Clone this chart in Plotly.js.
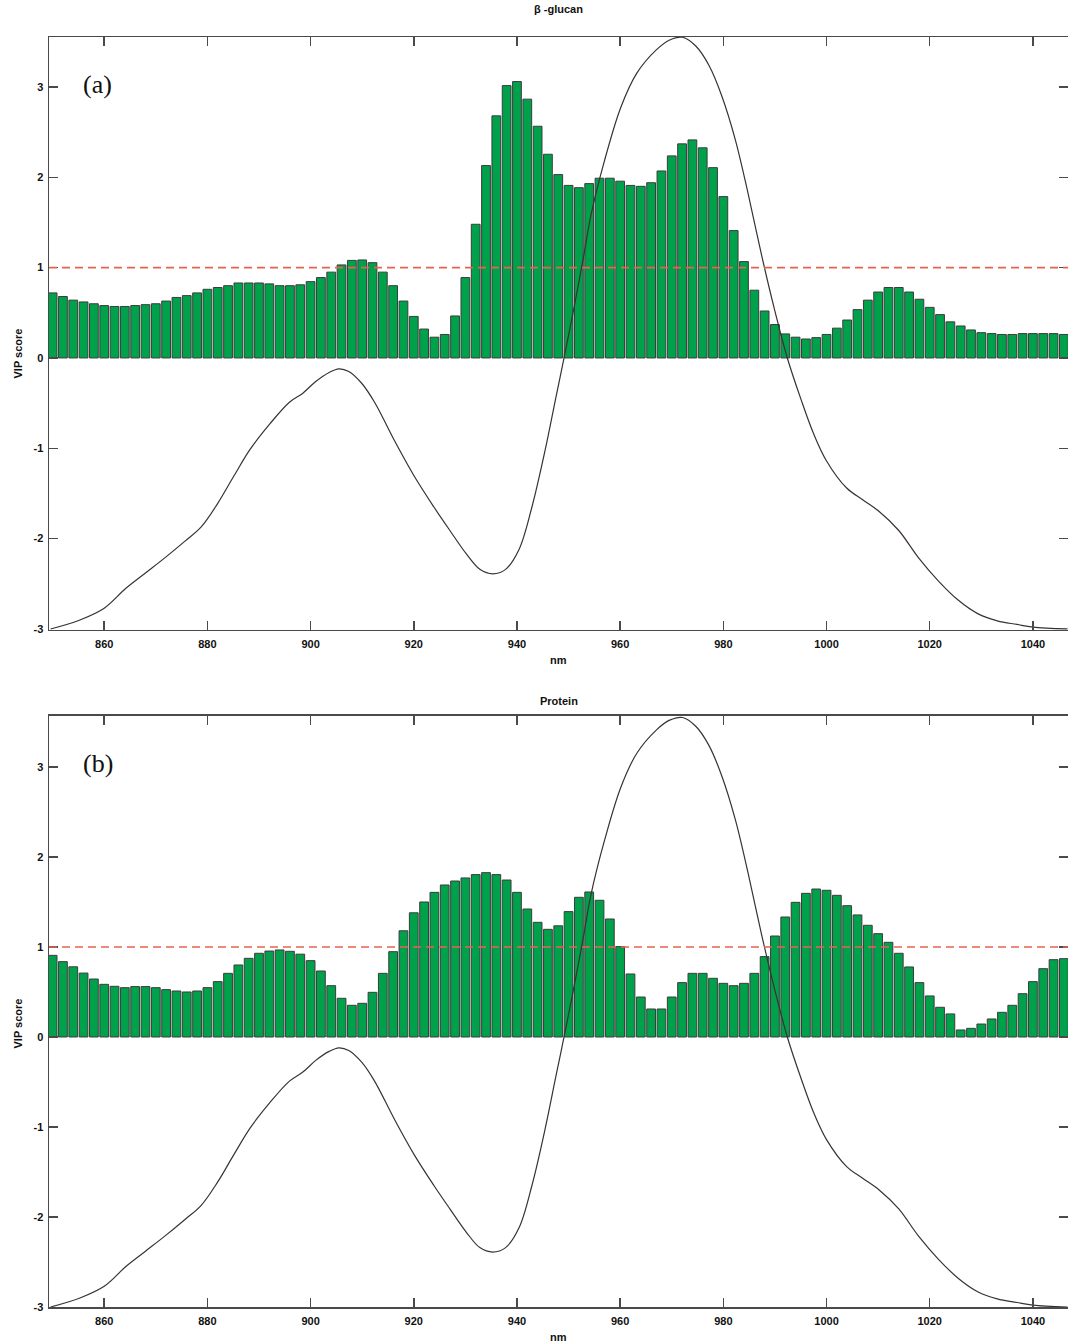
<!DOCTYPE html>
<html>
<head>
<meta charset="utf-8">
<script src="https://cdn.plot.ly/plotly-3.0.1.min.js"></script>
<style>html,body{margin:0;padding:0;background:#fff;}#chart{width:1068px;height:1343px;}</style>
</head>
<body>
<div id="chart"></div>
<script>
// Wavelengths (nm) of the VIP bars
const wavelengths = [850,852,854,856,858,860,862,864,866,868,870,872,874,876,878,880,882,884,886,888,
890,892,894,896,898,900,902,904,906,908,910,912,914,916,918,920,922,924,926,928,
930,932,934,936,938,940,942,944,946,948,950,952,954,956,958,960,962,964,966,968,
970,972,974,976,978,980,982,984,986,988,990,992,994,996,998,1000,1002,1004,1006,1008,
1010,1012,1014,1016,1018,1020,1022,1024,1026,1028,1030,1032,1034,1036,1038,1040,1042,1044,1046];

// (a) beta-glucan VIP scores
const vipGlucan = [0.72,0.68,0.64,0.62,0.60,0.58,0.57,0.57,0.58,0.59,
0.60,0.63,0.67,0.69,0.72,0.76,0.78,0.80,0.83,0.83,
0.83,0.82,0.80,0.80,0.81,0.845,0.89,0.95,1.03,1.08,
1.085,1.055,0.95,0.80,0.63,0.46,0.32,0.23,0.26,0.465,
0.89,1.48,2.13,2.68,3.015,3.06,2.865,2.565,2.255,2.03,
1.91,1.885,1.93,1.99,1.99,1.957,1.91,1.90,1.94,2.07,
2.237,2.37,2.414,2.326,2.107,1.786,1.41,1.067,0.75,0.52,
0.37,0.266,0.23,0.21,0.225,0.26,0.33,0.42,0.535,0.64,
0.73,0.78,0.78,0.73,0.65,0.56,0.48,0.40,0.354,0.31,
0.28,0.27,0.26,0.26,0.27,0.27,0.27,0.27,0.26];

// (b) protein VIP scores
const vipProtein = [0.907,0.837,0.78,0.71,0.644,0.585,0.563,0.548,0.56,0.56,
0.548,0.526,0.511,0.50,0.511,0.548,0.615,0.707,0.80,0.874,
0.93,0.955,0.967,0.952,0.92,0.848,0.733,0.57,0.43,0.352,
0.374,0.496,0.707,0.948,1.18,1.38,1.50,1.607,1.689,1.733,
1.767,1.804,1.826,1.804,1.744,1.607,1.422,1.274,1.196,1.235,
1.393,1.552,1.611,1.519,1.311,1.004,0.70,0.444,0.311,0.311,
0.444,0.604,0.707,0.707,0.652,0.596,0.57,0.596,0.707,0.893,
1.122,1.333,1.496,1.596,1.644,1.63,1.574,1.459,1.356,1.241,
1.148,1.052,0.93,0.778,0.604,0.456,0.33,0.256,0.078,0.096,
0.144,0.20,0.274,0.352,0.481,0.615,0.759,0.859,0.87];

// Overlaid spectrum curve (same in both panels)
const curveNm = [849.6,855.3,860,864.2,868,871.8,875.6,878.8,882,885.1,888.3,892.1,895.9,898.5,901,903.6,905.5,907.4,909.9,912.4,
916.3,920.1,923.9,927,930.2,932.8,935.3,937.8,940.4,942.9,945.5,947.5,949.3,951.2,953,954.3,956.9,960.1,963.2,967,969.6,
972.1,974.7,977.2,979.7,982.3,984.8,987.4,989.9,992.4,995,997.5,1000,1003.9,1007,1010.2,1014,1017.8,1021.7,1025.5,1029.3,
1033.1,1036.9,1040,1046.7];
const curveVal = [-3.0,-2.90,-2.77,-2.55,-2.38,-2.21,-2.03,-1.87,-1.61,-1.31,-1.01,-0.73,-0.49,-0.39,-0.26,-0.16,-0.12,-0.15,-0.28,-0.49,
-0.92,-1.31,-1.65,-1.91,-2.17,-2.34,-2.39,-2.34,-2.12,-1.65,-1.01,-0.45,0.05,0.6,1.15,1.57,2.17,2.77,3.15,3.41,3.52,
3.55,3.45,3.24,2.90,2.42,1.82,1.14,0.54,0,-0.45,-0.84,-1.14,-1.44,-1.57,-1.70,-1.91,-2.21,-2.47,-2.68,-2.83,
-2.91,-2.95,-2.98,-3.0];

const xTicks = [860,880,900,920,940,960,980,1000,1020,1040];
const yTicks = [-3,-2,-1,0,1,2,3];
const threshold = 1;
const panelTitles = ['\u03b2 -glucan','Protein'];
const panelLabels = ['(a)','(b)'];

const barStyle = {color:'#00a14b', line:{color:'#3c3c3c', width:1}};
const curveStyle = {color:'#3a3232', width:1.2, shape:'spline', smoothing:1};

const data = [
  {type:'bar', x:wavelengths, y:vipGlucan, marker:barStyle, xaxis:'x', yaxis:'y', hoverinfo:'x+y'},
  {type:'scatter', mode:'lines', x:curveNm, y:curveVal, line:curveStyle, xaxis:'x', yaxis:'y'},
  {type:'bar', x:wavelengths, y:vipProtein, marker:barStyle, xaxis:'x2', yaxis:'y2', hoverinfo:'x+y'},
  {type:'scatter', mode:'lines', x:curveNm, y:curveVal, line:curveStyle, xaxis:'x2', yaxis:'y2'}
];

const tickFont = {family:'Liberation Sans, Arial, sans-serif', size:11, color:'#111', weight:'bold'};
const axisCommon = {
  showline:true, linecolor:'#4a4a4a', linewidth:1.5, mirror:'ticks',
  ticks:'inside', ticklen:9, tickwidth:1.5, tickcolor:'#4a4a4a',
  showgrid:false, zeroline:false, tickfont:tickFont, automargin:false
};
function xa(anchor){ return Object.assign({}, axisCommon, {anchor:anchor, range:[849.3,1046.8], tickvals:xTicks, ticktext:xTicks.map(String), ticklabelstandoff:3}); }
function ya(anchor, dom, rng){ return Object.assign({}, axisCommon, {anchor:anchor, domain:dom, range:rng, tickvals:yTicks, ticktext:yTicks.map(String), ticklabelstandoff:2}); }

const labFont = {family:'Liberation Sans, Arial, sans-serif', size:11, color:'#111', weight:'bold'};
const annotations = [];
const panels = [
  {x:'x', y:'y', title:panelTitles[0], lab:panelLabels[0], tshift:28, vshift:-20},
  {x:'x2', y:'y2', title:panelTitles[1], lab:panelLabels[1], tshift:15, vshift:-12}
];
panels.forEach(p => {
  annotations.push({xref:p.x+' domain', yref:p.y+' domain', x:0.5, y:1, yshift:p.tshift, text:p.title, showarrow:false, font:labFont, xanchor:'center', yanchor:'middle'});
  annotations.push({xref:p.x+' domain', yref:p.y+' domain', x:0.5, y:0, yshift:-30, text:'nm', showarrow:false, font:labFont, xanchor:'center', yanchor:'middle'});
  annotations.push({xref:'paper', yref:p.y+' domain', x:0, xshift:-31, y:0.5, yshift:p.vshift, text:'VIP score', textangle:-90, showarrow:false, font:labFont, xanchor:'center', yanchor:'middle'});
  annotations.push({xref:p.x+' domain', yref:p.y+' domain', x:0.031, y:0.92, text:p.lab, showarrow:false, font:{family:'Liberation Serif, Times New Roman, serif', size:26, color:'#111'}, xanchor:'left', yanchor:'middle'});
});

const shapes = [
  {type:'line', xref:'x domain', yref:'y', x0:0, x1:1, y0:threshold, y1:threshold, line:{color:'#e8634e', width:1.6, dash:'8px,5px'}},
  {type:'line', xref:'x2 domain', yref:'y2', x0:0, x1:1, y0:threshold, y1:threshold, line:{color:'#e8634e', width:1.6, dash:'8px,5px'}}
];

const layout = {
  width:1068, height:1343,
  margin:{l:49, r:0, t:37, b:36},
  paper_bgcolor:'#ffffff', plot_bgcolor:'#ffffff',
  showlegend:false, bargap:0.15,
  xaxis:xa('y'), yaxis:ya('x',[0.5331,1],[-3.011,3.553]),
  xaxis2:xa('y2'), yaxis2:ya('x2',[0,0.4654],[-3.0,3.567]),
  annotations:annotations, shapes:shapes
};

Plotly.newPlot('chart', data, layout, {staticPlot:true, displayModeBar:false});
</script>
</body>
</html>
